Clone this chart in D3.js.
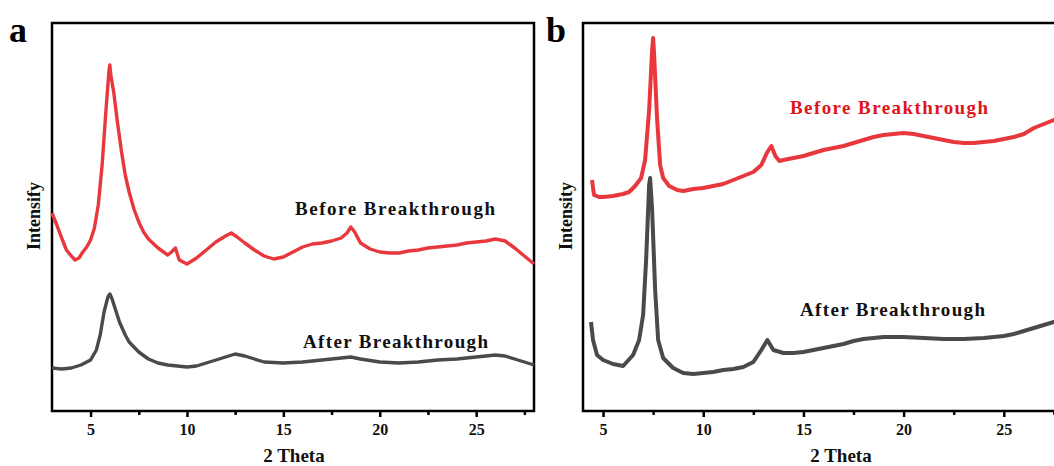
<!DOCTYPE html>
<html>
<head>
<meta charset="utf-8">
<script src="https://cdn.jsdelivr.net/npm/d3@7"></script>
<style>
  body { margin: 0; background: #fff; }
  text { font-family: "Liberation Serif", "Times New Roman", serif; font-weight: bold; }
</style>
</head>
<body>
<div id="chart"></div>
<script>
// Panel a, 2 Theta positions and intensities (a.u.)
const aBeforeX = [3,3.25,3.5,3.75,4,4.2,4.4,4.6,4.8,5,5.2,5.4,5.6,5.8,5.95,6,6.05,6.2,6.4,6.6,6.8,7,7.25,7.5,7.75,8,8.5,9,9.2,9.4,9.6,10,10.5,11,11.5,12,12.3,12.6,13,13.5,14,14.5,15,15.5,16,16.5,17,17.5,18,18.3,18.5,18.7,19,19.5,20,20.5,21,21.5,22,22.5,23,23.5,24,24.5,25,25.5,26,26.5,27,27.5,28];
const aBeforeY = [1980,1860,1730,1610,1550,1510,1530,1590,1640,1710,1830,2060,2460,3010,3390,3460,3360,3190,2880,2600,2360,2190,2020,1890,1790,1720,1630,1560,1590,1630,1510,1470,1530,1610,1690,1750,1780,1740,1680,1610,1550,1520,1540,1590,1640,1670,1680,1700,1730,1780,1840,1790,1680,1620,1590,1580,1580,1600,1610,1630,1640,1650,1660,1680,1690,1700,1720,1700,1630,1550,1470];

const aAfterX = [3,3.5,4,4.5,5,5.3,5.5,5.7,5.9,6,6.1,6.3,6.5,6.8,7,7.5,8,8.5,9,10,10.5,11,11.5,12,12.5,13,13.5,14,15,16,17,18,18.5,19,20,21,22,23,24,25,26,26.5,27,27.5,28];
const aAfterY = [430,420,430,460,510,610,760,990,1140,1170,1130,1010,890,760,690,590,520,480,460,440,450,480,510,540,570,550,520,490,480,490,510,530,540,520,490,480,490,510,520,540,560,550,520,490,460];

// Panel b
const bBeforeX = [4.45,4.55,4.8,5,5.5,6,6.3,6.6,6.9,7.1,7.3,7.45,7.5,7.55,7.7,7.85,8,8.3,8.7,9,9.5,10,10.5,11,11.5,12,12.5,12.9,13.2,13.4,13.6,13.8,14,14.5,15,15.5,16,16.5,17,17.5,18,18.5,19,19.5,20,20.5,21,21.5,22,22.5,23,23.5,24,24.5,25,25.5,26,26.5,27,27.5,28];
const bBeforeY = [2310,2160,2140,2140,2150,2170,2190,2250,2330,2510,3010,3610,3730,3560,2910,2460,2330,2250,2210,2200,2220,2230,2250,2270,2310,2350,2390,2460,2590,2650,2550,2500,2510,2530,2550,2580,2610,2630,2650,2680,2710,2740,2760,2770,2780,2770,2750,2730,2710,2690,2680,2680,2690,2700,2720,2740,2770,2830,2870,2910,2970];

const bAfterX = [4.4,4.5,4.7,5,5.5,6,6.5,6.8,7,7.15,7.3,7.35,7.45,7.6,7.75,8,8.5,9,9.5,10,10.5,11,11.5,12,12.5,12.9,13.2,13.5,14,14.5,15,15.5,16,16.5,17,17.5,18,18.5,19,20,21,22,23,24,25,25.5,26,26.5,27,27.5,28];
const bAfterY = [890,710,560,510,470,450,560,710,960,1510,2260,2330,2010,1210,710,530,430,380,370,380,390,410,420,440,490,610,710,610,580,580,590,610,630,650,670,700,720,730,740,740,730,720,720,730,750,770,800,830,860,890,930];

const majorTicks = [5, 10, 15, 20, 25];
const minorTicks = [7.5, 12.5, 17.5, 22.5, 27.5];

const red = "#e8383d", dark = "#4a4a4a";

const W = 1054, H = 466;
const frameTop = 23, frameBottom = 411;

const svg = d3.select("#chart").append("svg")
    .attr("width", W)
    .attr("height", H);

const y = d3.scaleLinear().domain([0, 3880]).range([frameBottom, frameTop]);

function panel(opts) {
    const x = d3.scaleLinear().domain(opts.domain).range(opts.range);
    const g = svg.append("g");

    // frame
    g.append("rect")
        .attr("x", opts.range[0]).attr("y", frameTop)
        .attr("width", opts.range[1] - opts.range[0])
        .attr("height", frameBottom - frameTop)
        .attr("fill", "none")
        .attr("stroke", "#000")
        .attr("stroke-width", 2.5);

    const line = d3.line().x(d => x(d[0])).y(d => y(d[1]));

    opts.series.forEach(s => {
        g.append("path")
            .datum(d3.zip(s.xs, s.ys))
            .attr("d", line)
            .attr("fill", "none")
            .attr("stroke", s.color)
            .attr("stroke-width", s.width)
            .attr("stroke-linejoin", "round");
    });

    // bottom axis
    const ax = g.append("g")
        .attr("transform", "translate(0," + frameBottom + ")")
        .call(d3.axisBottom(x).tickValues(majorTicks).tickSize(6).tickPadding(7).tickFormat(d3.format("d")));
    ax.select(".domain").remove();
    ax.selectAll(".tick line").attr("stroke", "#000").attr("stroke-width", 2.5);
    ax.selectAll(".tick text")
        .attr("font-size", 16)
        .attr("font-family", "Liberation Serif, serif")
        .attr("font-weight", "bold")
        .attr("fill", "#111");

    const mx = g.append("g")
        .attr("transform", "translate(0," + frameBottom + ")")
        .call(d3.axisBottom(x).tickValues(minorTicks).tickSize(4).tickFormat(""));
    mx.select(".domain").remove();
    mx.selectAll(".tick line").attr("stroke", "#000").attr("stroke-width", 2.5);

    g.append("text")
        .attr("x", opts.xTitleX).attr("y", 462)
        .attr("text-anchor", "middle")
        .attr("font-size", 19)
        .attr("fill", "#111")
        .text("2 Theta");

    g.append("text")
        .attr("transform", "translate(" + opts.yTitleX + ",216) rotate(-90)")
        .attr("text-anchor", "middle")
        .attr("dy", "0.35em")
        .attr("font-size", 18)
        .attr("fill", "#111")
        .text(opts.yTitle);

    g.append("text")
        .attr("x", opts.letterX).attr("y", 42)
        .attr("font-size", 36)
        .attr("fill", "#000")
        .text(opts.letter);

    opts.labels.forEach(l => {
        g.append("text")
            .attr("x", l.x).attr("y", l.y)
            .attr("dy", "0.35em")
            .attr("font-size", 19)
            .attr("textLength", l.w)
            .attr("lengthAdjust", "spacing")
            .attr("fill", l.color)
            .text(l.text);
    });
}

panel({
    domain: [3, 28], range: [52, 534],
    letter: "a", letterX: 9,
    yTitle: "Intensify", yTitleX: 34,
    xTitleX: 294,
    series: [
        {xs: aBeforeX, ys: aBeforeY, color: red, width: 3.4},
        {xs: aAfterX, ys: aAfterY, color: dark, width: 3.4}
    ],
    labels: [
        {text: "Before Breakthrough", x: 295, y: 208, w: 200, color: "#111"},
        {text: "After Breakthrough", x: 303, y: 341, w: 185, color: "#111"}
    ]
});

panel({
    domain: [4, 30], range: [583, 1104],
    letter: "b", letterX: 546,
    yTitle: "Intensity", yTitleX: 566,
    xTitleX: 841,
    series: [
        {xs: bBeforeX, ys: bBeforeY, color: red, width: 4},
        {xs: bAfterX, ys: bAfterY, color: dark, width: 4}
    ],
    labels: [
        {text: "Before Breakthrough", x: 790, y: 107, w: 198, color: "#e0151c"},
        {text: "After Breakthrough", x: 800, y: 309, w: 185, color: "#111"}
    ]
});
</script>
</body>
</html>
